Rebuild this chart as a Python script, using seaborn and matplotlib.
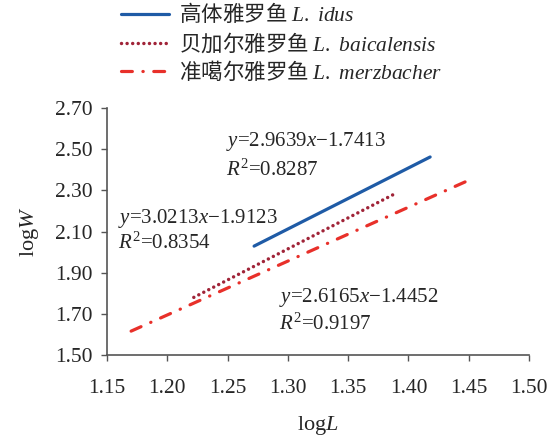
import numpy as np
import pandas as pd
import matplotlib
matplotlib.use('Agg')
import matplotlib.pyplot as plt
import seaborn as sns

# data (line end points, logL vs logW)
idus_x = [1.272, 1.418]
idus_y = [2.029, 2.462]
baic_x = [1.222, 1.390]
baic_y = [1.780, 2.287]
merz_x = [1.170, 1.452]
merz_y = [1.616, 2.354]

labels = ['高体雅罗鱼 $\\mathit{L.\\ idus}$',
          '贝加尔雅罗鱼 $\\mathit{L.\\ baicalensis}$',
          '准噶尔雅罗鱼 $\\mathit{L.\\ merzbacher}$']
eq_text = [('$y$=2.9639$x$\u22121.7413', '$R^{\\mathregular{2}}$=0.8287'),
           ('$y$=3.0213$x$\u22121.9123', '$R^{\\mathregular{2}}$=0.8354'),
           ('$y$=2.6165$x$\u22121.4452', '$R^{\\mathregular{2}}$=0.9197')]
x_ticks = [1.15, 1.20, 1.25, 1.30, 1.35, 1.40, 1.45, 1.50]
y_ticks = [1.50, 1.70, 1.90, 2.10, 2.30, 2.50, 2.70]

sns.set_style('ticks')
plt.rcParams['font.family'] = ['Liberation Serif', 'Noto Sans CJK SC']
plt.rcParams['mathtext.fontset'] = 'custom'
plt.rcParams['mathtext.rm'] = 'Liberation Serif'
plt.rcParams['mathtext.it'] = 'Liberation Serif:italic'
plt.rcParams['mathtext.bf'] = 'Liberation Serif:bold'

fig = plt.figure(figsize=(5.58, 4.36), dpi=100)
ax = fig.add_axes([107/558, 81/436, 422/558, 247/436])

df1 = pd.DataFrame({'x': idus_x, 'y': idus_y})
df2 = pd.DataFrame({'x': baic_x, 'y': baic_y})
df3 = pd.DataFrame({'x': merz_x, 'y': merz_y})

sns.lineplot(data=df1, x='x', y='y', ax=ax, color='#1f5ba6', lw=2.3,
             label=labels[0])
sns.lineplot(data=df2, x='x', y='y', ax=ax, color='#a02438', lw=2.5,
             linestyle=(0, (0.01, 1.6)), dash_capstyle='round', label=labels[1])
sns.lineplot(data=df3, x='x', y='y', ax=ax, color='#e8302a', lw=2.3,
             linestyle=(0, (3.4, 3.3, 0.1, 3.3)), dash_capstyle='round',
             label=labels[2])

ax.set_xlim(1.15, 1.50)
ax.set_ylim(1.50, 2.70)
ax.set_xticks(x_ticks)
ax.set_yticks(y_ticks)
ax.set_xticklabels([f'{v:.2f}' for v in x_ticks])
ax.set_yticklabels([f'{v:.2f}' for v in y_ticks])
ax.tick_params(axis='both', labelsize=15.5, length=4.5, width=1, color='#555555',
               direction='out')
ax.tick_params(axis='x', pad=13)
ax.tick_params(axis='y', pad=6)
for s in ['left', 'bottom']:
    ax.spines[s].set_color('#555555')
    ax.spines[s].set_linewidth(1.2)
sns.despine(ax=ax)

ax.set_xlabel('log$L$', fontsize=16, labelpad=11)
ax.set_ylabel('log$W$', fontsize=16, labelpad=10)

pos = [(1.2487, 2.535, 2.399), (1.159, 2.165, 2.044), (1.2927, 1.777, 1.650)]
for (eq, r2), (px, py1, py2) in zip(eq_text, pos):
    ax.text(px, py1, eq, fontsize=15, ha='left', va='center')
    ax.text(px, py2, r2, fontsize=15, ha='left', va='center')

leg = ax.legend(loc='upper left', bbox_to_anchor=(119/558, 1.0),
                bbox_transform=fig.transFigure, frameon=False,
                handlelength=2.2, handletextpad=0.5, labelspacing=0.2,
                borderaxespad=0.0, borderpad=0.1,
                prop={'family': 'Noto Sans CJK SC', 'size': 15.5})

fig.savefig('out.png', dpi=100)
